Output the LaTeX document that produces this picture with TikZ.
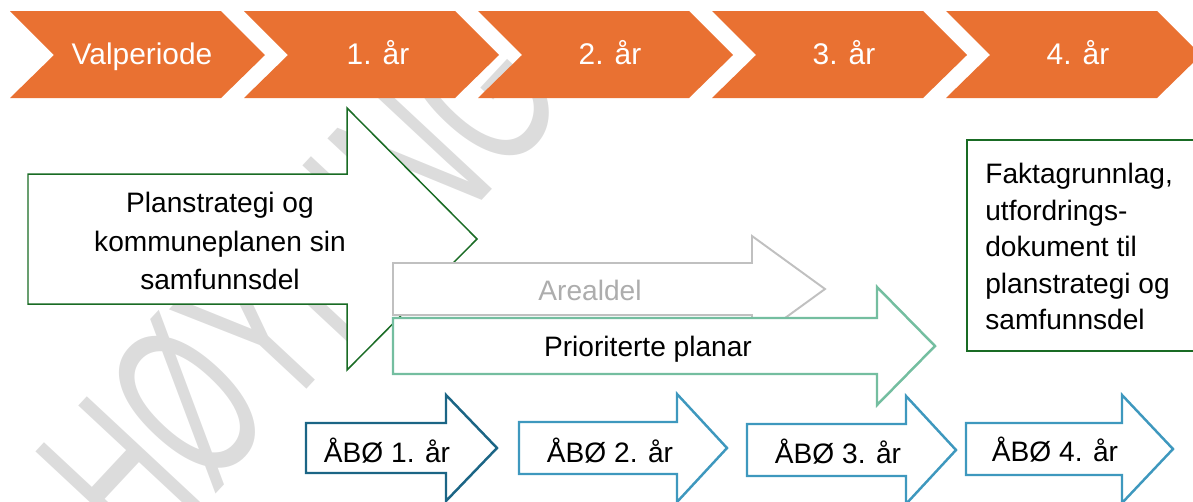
\documentclass[tikz,border=0pt]{standalone}
\usepackage{fontspec}
\setmainfont{Liberation Sans}
\definecolor{PlanOrange}{HTML}{E97132}
\definecolor{PlanGreen}{HTML}{196B24}
\definecolor{PlanTeal}{RGB}{116,190,160}
\definecolor{PlanGray}{RGB}{192,192,192}
\definecolor{ABODark}{HTML}{1B6585}
\definecolor{ABOLight}{RGB}{62,152,190}
\definecolor{MarkGray}{RGB}{220,220,220}
\tikzset{year chevron/.style={
    fill=PlanOrange,
    draw=none
}}
\tikzset{year label/.style={
    text=white,
    anchor=base,
    inner sep=0pt,
    font=\fontsize{17}{20}\selectfont
}}
\tikzset{plan arrow/.style={
    fill=white,
    line join=miter
}}
\tikzset{plan label/.style={
    anchor=base,
    inner sep=0pt,
    font=\fontsize{16}{22}\selectfont
}}
\tikzset{watermark/.style={
    text=MarkGray,
    rotate=47,
    inner sep=0pt,
    font=\fontsize{128}{128}\selectfont
}}
% chevron in the top row, #1 = left edge
\newcommand{\yearchevron}[1]{%
  \fill[year chevron] (#1,11) -- ++(211,0) -- ++(44,44) -- ++(-44,43)
     -- ++(-211,0) -- ++(44,-43) -- cycle;}
% block arrow: style, left, mid y, head base, tip, body half, head half
\newcommand{\blockarrow}[7]{%
  \filldraw[plan arrow,#1] (#2,#3-#6) -- (#4,#3-#6) -- (#4,#3-#7) -- (#5,#3)
     -- (#4,#3+#7) -- (#4,#3+#6) -- (#2,#3+#6) -- cycle;}

\begin{document}
\begin{tikzpicture}[x=0.02cm, y=-0.02cm]
    \useasboundingbox (0,0) rectangle (1193,501);

    % watermark behind everything
    \node[watermark] (wm) at (300,282) {\scalebox{0.6}[1]{HØYRING}};

    % top row: election period
    \yearchevron{10}
    \yearchevron{244}
    \yearchevron{478}
    \yearchevron{712}
    \yearchevron{946}
    \node[year label] (valg) at (142,64) {Valperiode};
    \node[year label] (aar1) at (378,64) {1. år};
    \node[year label] (aar2) at (610,64) {2. år};
    \node[year label] (aar3) at (844,64) {3. år};
    \node[year label] (aar4) at (1078,64) {4. år};

    % long arrows
    \blockarrow{draw=PlanGreen, line width=0.85pt}{28}{239}{347}{477}{65}{131}
    \node[plan label, anchor=center, align=center] (samf) at (220,241)
        {Planstrategi og\\kommuneplanen sin\\samfunnsdel};

    \blockarrow{draw=PlanGray, line width=1.1pt}{393}{289}{752}{825}{26}{53}
    \node[plan label, text=PlanGray!90!black] (areal) at (590,300) {Arealdel};

    \blockarrow{draw=PlanTeal, line width=1.4pt}{393}{346}{877}{935}{28}{59}
    \node[plan label] (prio) at (648,356) {Prioriterte planar};

    % yearly arrows
    \blockarrow{draw=ABODark, line width=1.4pt}{306}{448}{446}{497}{25}{53}
    \node[plan label] (abo1) at (387,462) {ÅBØ 1. år};

    \blockarrow{draw=ABOLight, line width=1.4pt}{519}{448}{677}{727}{26}{54}
    \node[plan label] (abo2) at (610,462) {ÅBØ 2. år};

    \blockarrow{draw=ABOLight, line width=1.4pt}{747}{450}{906}{956}{26}{54}
    \node[plan label] (abo3) at (838,463) {ÅBØ 3. år};

    \blockarrow{draw=ABOLight, line width=1.4pt}{966}{449}{1122}{1173}{26}{54}
    \node[plan label] (abo4) at (1055,461) {ÅBØ 4. år};

    % knowledge base box
    \filldraw[fill=white, draw=PlanGreen, line width=1.1pt] (967,140) rectangle (1205,351);
    \node[plan label, anchor=north west, align=left,
          font=\fontsize{16}{20.8}\selectfont] (fakta) at (985,163)
        {Faktagrunnlag,\\utfordrings-\\dokument til\\planstrategi og\\samfunnsdel};
\end{tikzpicture}
\end{document}
